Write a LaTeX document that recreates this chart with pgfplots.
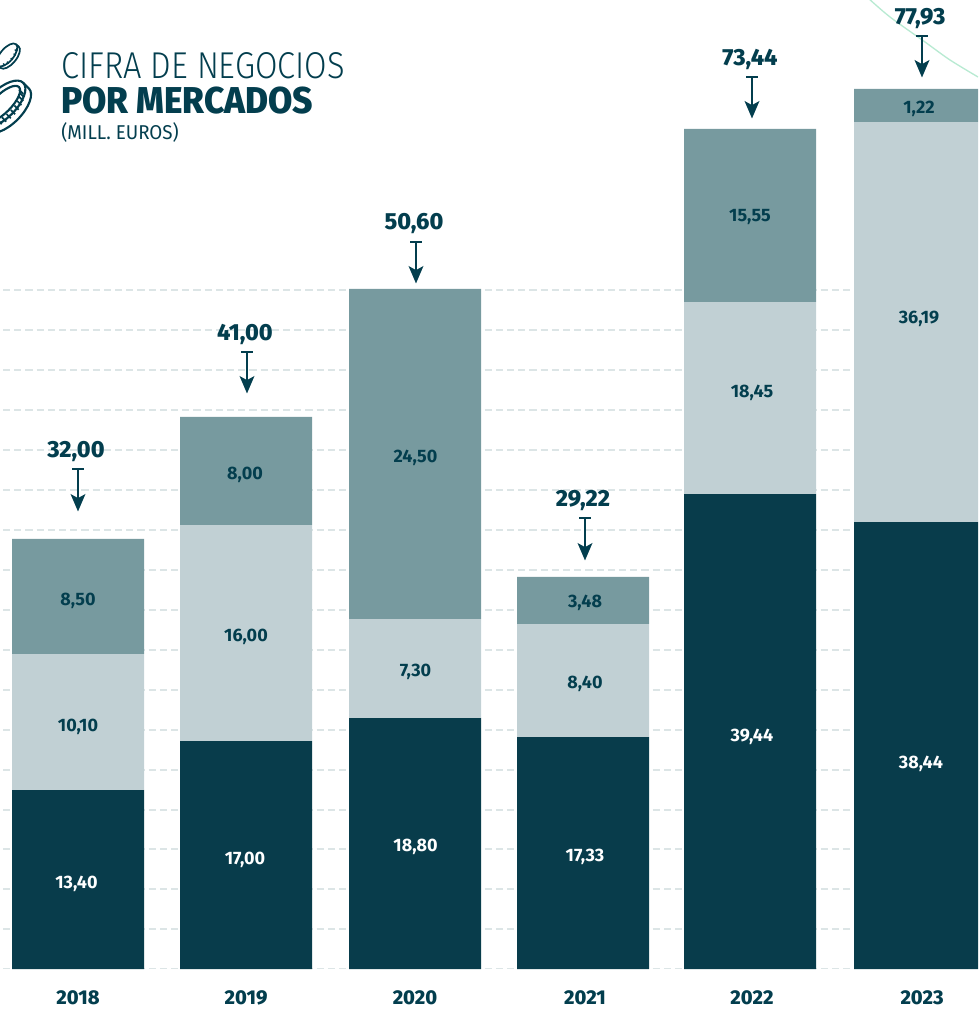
\documentclass[border=0pt]{standalone}
\usepackage{pgfplots}
\usepackage{pgfplotstable}
\usepackage{fontspec}
\usepackage{graphicx}
\pgfplotsset{compat=1.18}
\usetikzlibrary{arrows.meta}
\setmainfont{Fira Sans}
\newfontfamily\light{Fira Sans Light}
\newfontfamily\heavy{Fira Sans ExtraBold}
\definecolor{cdark}{HTML}{083C4B}
\definecolor{cmid}{HTML}{C1D0D4}
\definecolor{ctop}{HTML}{779A9F}
\definecolor{ctext}{HTML}{033E4E}
\definecolor{cgrid}{HTML}{DCE5E6}
\definecolor{cgreen}{HTML}{B8EAD2}
\newlength{\uu}\setlength{\uu}{0.75pt}
% Axis unit: drawn height in pixels of the reference. The printed chart is not
% to scale (e.g. 2022/2023), so bar heights are read off the picture and the
% printed values are kept as labels.
\pgfplotstableread{
x    a    b    c
78   179  136  115
246  228  216  108
415  251   99  330
583  232  113   47
750  475  192  173
920  447  400   33
}\bars
\pgfplotstableread{
x    y    lab
76.5 85.5   13,40
245  109.5  17,00
415.5 122.5 18,80
585  112.5  17,33
752  232.5  39,44
921  205.5  38,44
}\labdark
\pgfplotstableread{
x    y    lab
78   242.5  10,10
246  332.5  16,00
415.5 297.5 7,30
585  285.5  8,40
752  576.5  18,45
919  650.5  36,19
78   368.5  8,50
245  494.5  8,00
415.5 511.5 24,50
585  366.5  3,48
750  751.5  15,55
919  860.5  1,22
}\labmid
\pgfplotstableread{
x    y    lab
76   517  32,00
245  635  41,00
414  745  50,60
583  468  29,22
750  910  73,44
920  950  77,93
}\labtotal
\begin{document}
\begin{tikzpicture}[x=1pt,y=1pt]
\path[use as bounding box] (0,0) rectangle (978\uu,1010\uu);
\begin{axis}[
  at={(0,41\uu)},anchor=south west,
  scale only axis,width=978\uu,height=969\uu,
  xmin=0,xmax=978,ymin=0,ymax=969,
  axis line style={draw=none},
  tick style={draw=none},
  ytick=\empty,
  xtick={78,246,415,585,752,922},
  xticklabels={2018,2019,2020,2021,2022,2023},
  xticklabel style={font=\heavy\fontsize{15pt}{15pt}\selectfont,text=ctext,yshift=-17\uu},
]
% gridlines
\addplot[cgrid,line width=1pt,dash pattern=on 5.4pt off 3pt,unbounded coords=jump] coordinates {
(3,0.5)(978,0.5)(nan,nan)
(3,40)(978,40)(nan,nan)
(3,80)(978,80)(nan,nan)
(3,120)(978,120)(nan,nan)
(3,159)(978,159)(nan,nan)
(3,199)(978,199)(nan,nan)
(3,239)(978,239)(nan,nan)
(3,279)(978,279)(nan,nan)
(3,319)(978,319)(nan,nan)
(3,359)(978,359)(nan,nan)
(3,399)(978,399)(nan,nan)
(3,439)(978,439)(nan,nan)
(3,479)(978,479)(nan,nan)
(3,519)(978,519)(nan,nan)
(3,559)(978,559)(nan,nan)
(3,599)(978,599)(nan,nan)
(3,639)(978,639)(nan,nan)
(3,679)(978,679)(nan,nan)
};
% green curve
\addplot[cgreen,line width=1pt,smooth] coordinates {(868,971)(890,952)(925,927)(950,909)(978,892)};
% bars
\addplot[ybar stacked,bar width=99pt,fill=cdark,draw=none] table[x=x,y=a] {\bars};
\addplot[ybar stacked,bar width=99pt,fill=cmid,draw=none] table[x=x,y=b] {\bars};
\addplot[ybar stacked,bar width=99pt,fill=ctop,draw=none] table[x=x,y=c] {\bars};
\end{axis}
\begin{axis}[
  at={(0,41\uu)},anchor=south west,
  scale only axis,width=978\uu,height=969\uu,
  xmin=0,xmax=978,ymin=0,ymax=969,
  axis lines=none,
  clip=false,
]
\pgfplotsset{lab/.style={draw=none,mark=none,nodes near coords,point meta=explicit symbolic,
   every node near coord/.style={anchor=center}}}
\addplot[lab,nodes near coords style={text=white,font=\bfseries\fontsize{13.5pt}{13.5pt}\selectfont}] table[x=x,y=y,meta=lab] {\labdark};
\addplot[lab,nodes near coords style={text=ctext,font=\bfseries\fontsize{13.5pt}{13.5pt}\selectfont}] table[x=x,y=y,meta=lab] {\labmid};
\addplot[lab,nodes near coords style={text=ctext,font=\heavy\fontsize{17.5pt}{17.5pt}\selectfont}] table[x=x,y=y,meta=lab] {\labtotal};
% arrows
\pgfplotsset{arr/.style={ctext,line width=1.8pt,-{Stealth[length=13pt,width=11pt,inset=3pt]}}}
\addplot[arr] coordinates {(78,500)(78,457.5)};
\addplot[arr] coordinates {(247,617)(247,575.5)};
\addplot[arr] coordinates {(416,727)(416,685.5)};
\addplot[arr] coordinates {(585,451)(585,408.5)};
\addplot[arr] coordinates {(752,892)(752,850.5)};
\addplot[arr] coordinates {(922,933)(922,891.5)};
\addplot[ctext,line width=1.8pt] coordinates {(72,500)(84,500)};
\addplot[ctext,line width=1.8pt] coordinates {(241,617)(253,617)};
\addplot[ctext,line width=1.8pt] coordinates {(410,727)(422,727)};
\addplot[ctext,line width=1.8pt] coordinates {(579,451)(591,451)};
\addplot[ctext,line width=1.8pt] coordinates {(746,892)(758,892)};
\addplot[ctext,line width=1.8pt] coordinates {(916,933)(928,933)};
% title
\node[anchor=west,inner sep=0,text=ctext] at (axis cs:61,903) {\scalebox{0.872}[1]{\light\fontsize{28pt}{28pt}\selectfont CIFRA DE NEGOCIOS}};
\node[anchor=west,inner sep=0,text=ctext] at (axis cs:61,868) {\scalebox{0.943}[1]{\heavy\fontsize{28pt}{28pt}\selectfont POR MERCADOS}};
\node[anchor=west,inner sep=0,text=ctext] at (axis cs:61,836) {\scalebox{0.94}[1]{\fontsize{15pt}{15pt}\selectfont (MILL. EUROS)}};
% coins
\begin{scope}
\clip (axis cs:0,0) rectangle (axis cs:978,969);
\begin{scope}[shift={(axis cs:7,914)},rotate=50]
\draw[ctext,line width=1.3pt] (0,0) ellipse [x radius=10.5pt,y radius=4.9pt];
\draw[ctext,line width=1.3pt] (-10.5pt,0pt) -- (-10.5pt,-2.6pt) arc[start angle=180,end angle=360,x radius=10.5pt,y radius=4.9pt] -- (10.5pt,0pt);
\pgfplotsinvokeforeach{210,240,270,300,330}{
  \draw[ctext,line width=1pt] ({10.5*cos(#1)},{4.9*sin(#1)}) -- ({10.5*cos(#1)},{-2.6+4.9*sin(#1)});
}
\end{scope}
\begin{scope}[shift={(axis cs:2,865)},rotate=45]
\draw[ctext,line width=1.6pt] (0,0) ellipse [x radius=22.5pt,y radius=10.5pt];
\draw[ctext,line width=1.6pt] (0,0) ellipse [x radius=18pt,y radius=6.8pt];
\draw[ctext,line width=1.6pt] (-22.5pt,0pt) -- (-22.5pt,-6pt) arc[start angle=180,end angle=360,x radius=22.5pt,y radius=10.5pt] -- (22.5pt,0pt);
\pgfplotsinvokeforeach{200,215,230,245,260,275,290,305,320,335,350}{
  \draw[ctext,line width=1.3pt] ({22.5*cos(#1)},{10.5*sin(#1)}) -- ({22.5*cos(#1)},{-6+10.5*sin(#1)});
}
\end{scope}
\end{scope}
\end{axis}
\end{tikzpicture}
\end{document}
